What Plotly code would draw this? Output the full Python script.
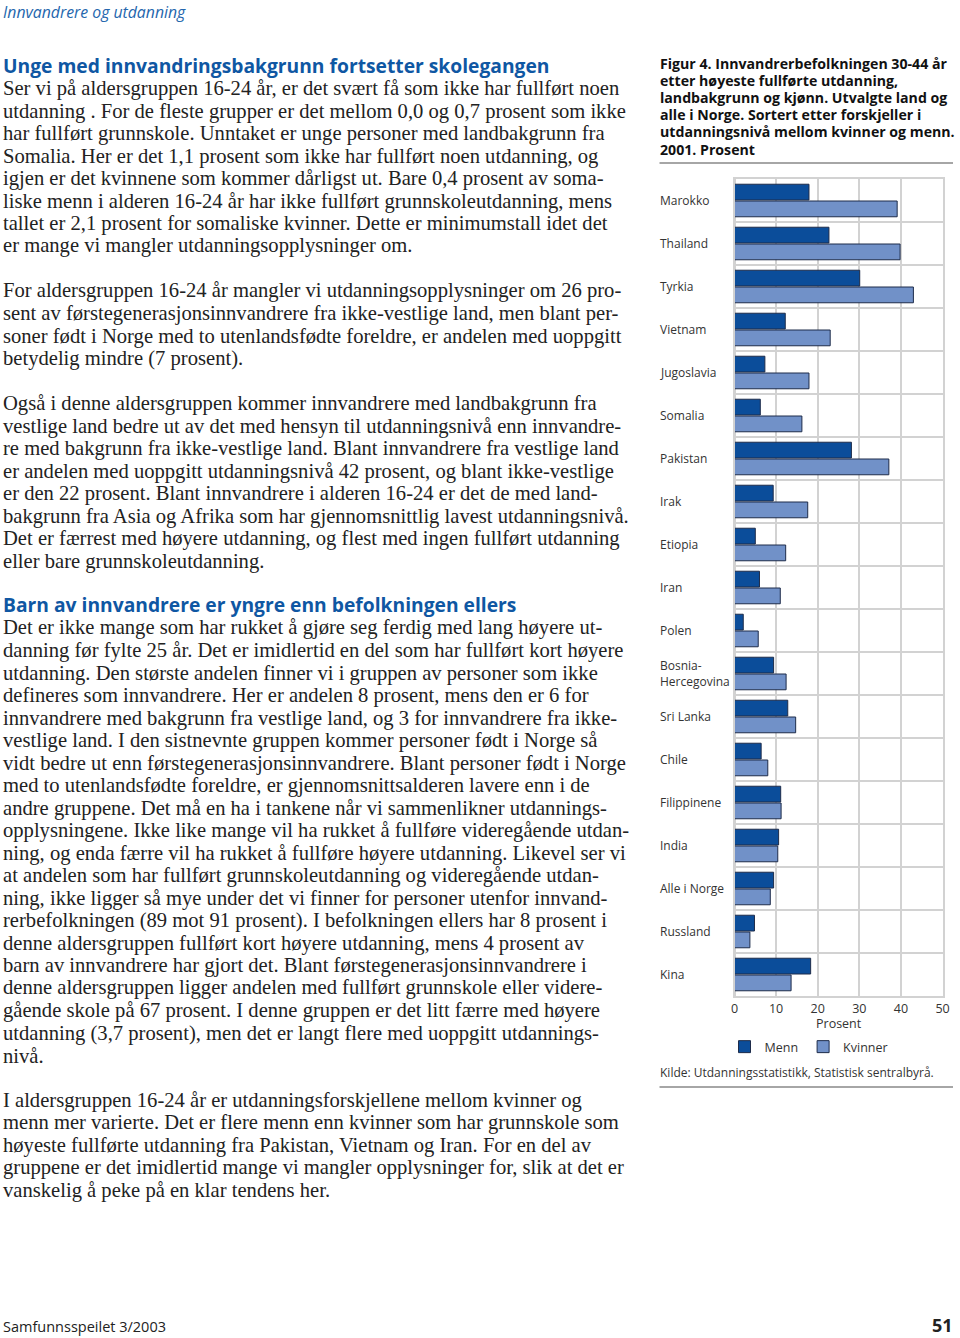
import plotly.graph_objects as go

W, H = 960, 1338

# ---------------- data ----------------
countries = ["Marokko", "Thailand", "Tyrkia", "Vietnam", "Jugoslavia", "Somalia",
             "Pakistan", "Irak", "Etiopia", "Iran", "Polen", "Bosnia-Hercegovina",
             "Sri Lanka", "Chile", "Filippinene", "India", "Alle i Norge",
             "Russland", "Kina"]
country_labels = ["Marokko", "Thailand", "Tyrkia", "Vietnam", "Jugoslavia", "Somalia",
                  "Pakistan", "Irak", "Etiopia", "Iran", "Polen", "Bosnia-<br>Hercegovina",
                  "Sri Lanka", "Chile", "Filippinene", "India", "Alle i Norge",
                  "Russland", "Kina"]
menn = [17.9, 22.7, 30.1, 12.2, 7.3, 6.2, 28.1, 9.3, 5.0, 6.0, 2.1, 9.4,
        12.8, 6.4, 11.1, 10.6, 9.4, 4.8, 18.3]
kvinner = [39.1, 39.8, 43.0, 23.0, 17.9, 16.2, 37.1, 17.6, 12.3, 11.0, 5.7, 12.4,
           14.7, 8.0, 11.2, 10.4, 8.6, 3.7, 13.6]
x_ticks = [0, 10, 20, 30, 40, 50]

fig_title = ["Figur 4. Innvandrerbefolkningen 30-44 år",
             "etter høyeste fullførte utdanning,",
             "landbakgrunn og kjønn. Utvalgte land og",
             "alle i Norge. Sortert etter forskjeller i",
             "utdanningsnivå mellom kvinner og menn.",
             "2001. Prosent"]
source = "Kilde: Utdanningsstatistikk, Statistisk sentralbyrå."

running_head = "Innvandrere og utdanning"
heading1 = "Unge med innvandringsbakgrunn fortsetter skolegangen"
para1 = ["Ser vi på aldersgruppen 16-24 år, er det svært få som ikke har fullført noen",
         "utdanning . For de fleste grupper er det mellom 0,0 og 0,7 prosent som ikke",
         "har fullført grunnskole. Unntaket er unge personer med landbakgrunn fra",
         "Somalia. Her er det 1,1 prosent som ikke har fullført noen utdanning, og",
         "igjen er det kvinnene som kommer dårligst ut. Bare 0,4 prosent av soma-",
         "liske menn i alderen 16-24 år har ikke fullført grunnskoleutdanning, mens",
         "tallet er 2,1 prosent for somaliske kvinner. Dette er minimumstall idet det",
         "er mange vi mangler utdanningsopplysninger om."]
para2 = ["For aldersgruppen 16-24 år mangler vi utdanningsopplysninger om 26 pro-",
         "sent av førstegenerasjonsinnvandrere fra ikke-vestlige land, men blant per-",
         "soner født i Norge med to utenlandsfødte foreldre, er andelen med uoppgitt",
         "betydelig mindre (7 prosent)."]
para3 = ["Også i denne aldersgruppen kommer innvandrere med landbakgrunn fra",
         "vestlige land bedre ut av det med hensyn til utdanningsnivå enn innvandre-",
         "re med bakgrunn fra ikke-vestlige land. Blant innvandrere fra vestlige land",
         "er andelen med uoppgitt utdanningsnivå 42 prosent, og blant ikke-vestlige",
         "er den 22 prosent. Blant innvandrere i alderen 16-24 er det de med land-",
         "bakgrunn fra Asia og Afrika som har gjennomsnittlig lavest utdanningsnivå.",
         "Det er færrest med høyere utdanning, og flest med ingen fullført utdanning",
         "eller bare grunnskoleutdanning."]
heading2 = "Barn av innvandrere er yngre enn befolkningen ellers"
para4 = ["Det er ikke mange som har rukket å gjøre seg ferdig med lang høyere ut-",
         "danning før fylte 25 år. Det er imidlertid en del som har fullført kort høyere",
         "utdanning. Den største andelen finner vi i gruppen av personer som ikke",
         "defineres som innvandrere. Her er andelen 8 prosent, mens den er 6 for",
         "innvandrere med bakgrunn fra vestlige land, og 3 for innvandrere fra ikke-",
         "vestlige land. I den sistnevnte gruppen kommer personer født i Norge så",
         "vidt bedre ut enn førstegenerasjonsinnvandrere. Blant personer født i Norge",
         "med to utenlandsfødte foreldre, er gjennomsnittsalderen lavere enn i de",
         "andre gruppene. Det må en ha i tankene når vi sammenlikner utdannings-",
         "opplysningene. Ikke like mange vil ha rukket å fullføre videregående utdan-",
         "ning, og enda færre vil ha rukket å fullføre høyere utdanning. Likevel ser vi",
         "at andelen som har fullført grunnskoleutdanning og videregående utdan-",
         "ning, ikke ligger så mye under det vi finner for personer utenfor innvand-",
         "rerbefolkningen (89 mot 91 prosent). I befolkningen ellers har 8 prosent i",
         "denne aldersgruppen fullført kort høyere utdanning, mens 4 prosent av",
         "barn av innvandrere har gjort det. Blant førstegenerasjonsinnvandrere i",
         "denne aldersgruppen ligger andelen med fullført grunnskole eller videre-",
         "gående skole på 67 prosent. I denne gruppen er det litt færre med høyere",
         "utdanning (3,7 prosent), men det er langt flere med uoppgitt utdannings-",
         "nivå."]
para5 = ["I aldersgruppen 16-24 år er utdanningsforskjellene mellom kvinner og",
         "menn mer varierte. Det er flere menn enn kvinner som har grunnskole som",
         "høyeste fullførte utdanning fra Pakistan, Vietnam og Iran. For en del av",
         "gruppene er det imidlertid mange vi mangler opplysninger for, slik at det er",
         "vanskelig å peke på en klar tendens her."]
footer_left = "Samfunnsspeilet 3/2003"
footer_right = "51"

# ---------------- styles ----------------
SANS = "Open Sans"
SERIF = "Liberation Serif"
BLUE_HEAD = "#0f57a3"
C_MENN = "#0b4d9a"
C_KVINNER = "#7191c8"
EDGE = "#1e2c4a"
GRID = "#d2d2d2"
TXT = "#222222"
BODY = 20.6
S = 0.9885  # horizontal compensation for the capture


def py(p):
    return 1 - p / H


def px(p):
    v = (480 + (p - 479) / S) / W
    return min(max(v, 0.0), 1.0)


fig = go.Figure()
fig.add_trace(go.Bar(y=countries, x=menn, name="Menn", orientation="h",
                     marker=dict(color=C_MENN, line=dict(color=EDGE, width=1))))
fig.add_trace(go.Bar(y=countries, x=kvinner, name="Kvinner", orientation="h",
                     marker=dict(color=C_KVINNER, line=dict(color=EDGE, width=1))))

ann = []


def text_line(s, x, y, size, family, color=TXT, bold=False, italic=False,
              xanchor="left", xshift=0):
    t = s
    if bold:
        t = "<b>" + t + "</b>"
    if italic:
        t = "<i>" + t + "</i>"
    ann.append(dict(text=t, x=px(x), y=py(y), xref="paper", yref="paper",
                    xanchor=xanchor, yanchor="middle", showarrow=False,
                    borderpad=0, borderwidth=0, xshift=xshift,
                    font=dict(family=family, size=size, color=color)))


LEFT = 3
text_line(running_head, LEFT, 12, 15.8, SANS, color="#2466ad", italic=True, xshift=-1)
text_line(heading1, LEFT, 65.5, 19.25, SANS, color=BLUE_HEAD, bold=True, xshift=-1)
LS = 22.5
for i, s in enumerate(para1):
    text_line(s, LEFT, 88.5 + i * LS, BODY, SERIF, xshift=-1)
for i, s in enumerate(para2):
    text_line(s, LEFT, 291 + i * LS, BODY, SERIF, xshift=-1)
for i, s in enumerate(para3):
    text_line(s, LEFT, 403.5 + i * LS, BODY, SERIF, xshift=-1)
text_line(heading2, LEFT, 604.5, 19.25, SANS, color=BLUE_HEAD, bold=True, xshift=-1)
for i, s in enumerate(para4):
    text_line(s, LEFT, 628 + i * LS, BODY, SERIF, xshift=-1)
for i, s in enumerate(para5):
    text_line(s, LEFT, 1100 + i * LS, BODY, SERIF, xshift=-1)
text_line(footer_left, LEFT, 1326, 14.5, SANS, xshift=-1)
text_line(footer_right, 960, 1325, 18, SANS, bold=True, xanchor="right")

for i, s in enumerate(fig_title):
    text_line(s, 660, 64 + i * 17, 14.15, SANS, color="#111111", bold=True)
text_line(source, 660, 1072, 12, SANS, color="#333333")
text_line("Prosent", 839, 1023, 12.5, SANS, color="#333333", xanchor="center")

for c, lab in zip(countries, country_labels):
    ann.append(dict(text=lab, x=px(660), y=c, xref="paper", yref="y",
                    xanchor="left", yanchor="middle", align="left", showarrow=False,
                    borderpad=0, borderwidth=0,
                    font=dict(family=SANS, size=12, color="#333333")))

shapes = [
    dict(type="line", xref="paper", yref="paper", x0=px(660), x1=px(957),
         y0=py(163), y1=py(163), line=dict(color="#888888", width=1.5)),
    dict(type="line", xref="paper", yref="paper", x0=px(660), x1=px(957),
         y0=py(1087), y1=py(1087), line=dict(color="#888888", width=1.5)),
]

fig.update_layout(
    width=W, height=H, autosize=False,
    margin=dict(l=0, r=0, t=0, b=0),
    paper_bgcolor="white", plot_bgcolor="white",
    barmode="group", bargap=0.22, bargroupgap=0.06,
    showlegend=True,
    legend=dict(orientation="h", x=px(725), y=py(1032), xanchor="left", yanchor="top",
                font=dict(family=SANS, size=12.5, color="#333333"),
                itemwidth=30, traceorder="normal",
                bgcolor="rgba(0,0,0,0)"),
    xaxis=dict(domain=[px(735), px(943)], range=[0, 50], tickvals=x_ticks,
               showgrid=True, gridcolor=GRID, gridwidth=2,
               zeroline=True, zerolinecolor=GRID, zerolinewidth=2,
               showline=True, linecolor=GRID, linewidth=2, mirror=True,
               ticks="", tickfont=dict(family=SANS, size=12.5, color="#333333"),
               fixedrange=True),
    yaxis=dict(domain=[py(996), py(179)], categoryorder="array", categoryarray=countries,
               autorange="reversed", showticklabels=False, ticks="",
               tickson="boundaries", showgrid=True, gridcolor=GRID, gridwidth=2,
               showline=True, linecolor=GRID, linewidth=2, mirror=True,
               fixedrange=True),
    annotations=ann, shapes=shapes,
    hovermode=False,
)

fig.write_html("out.html",
               config={"displayModeBar": False, "responsive": False},
               post_script="document.documentElement.style.margin='0';"
                           "document.body.style.margin='0';"
                           "document.body.style.overflow='hidden';"
                           "document.documentElement.style.overflow='hidden';")
